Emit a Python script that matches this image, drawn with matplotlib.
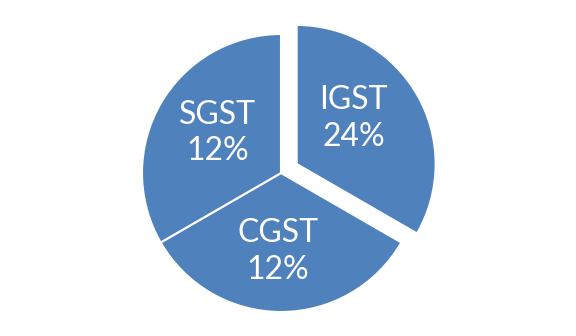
import matplotlib
matplotlib.use("Agg")
import matplotlib.pyplot as plt

categories = ["IGST", "CGST", "SGST"]
rates = [24, 12, 12]          # label values (%)
shares = [1, 1, 1]            # slices appear equal in the picture
explode = [0.13, 0, 0]

# label anchor positions (layout)
label_pos = [(0.522, 0.392), (-0.022, -0.565), (-0.457, 0.288)]

fig = plt.figure(figsize=(5.76, 3.36), dpi=100)
ax = fig.add_axes([0, 0, 1, 1])
labels = [f"{c}\n{r}%" for c, r in zip(categories, rates)]
wedges, texts = ax.pie(shares, labels=labels, explode=explode, startangle=90,
                       counterclock=False, colors=["#4F81BD"] * 3,
                       labeldistance=0.55,
                       wedgeprops=dict(edgecolor="white", linewidth=1.5),
                       textprops=dict(color="white", fontsize=23, family="Lato",
                                      ha="center", va="center", linespacing=1.28))
for t, p in zip(texts, label_pos):
    t.set_position(p)
ax.set_aspect("auto")
ax.set_xlim(-281 / 139, (576 - 281) / 139)
ax.set_ylim(-163 / 139, (336 - 163) / 139)
ax.axis("off")
fig.savefig("out.png", dpi=100, facecolor="white")
